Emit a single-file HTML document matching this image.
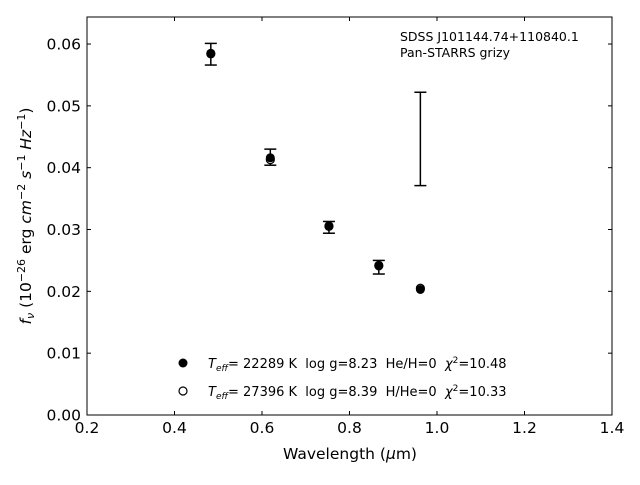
<!DOCTYPE html>
<html><head><meta charset="utf-8"><style>
body{margin:0;background:#fff}
svg text{font-family:"DejaVu Sans","Liberation Sans",sans-serif;fill:#000;white-space:pre}
</style></head><body>
<svg id="c" width="640" height="480" xmlns="http://www.w3.org/2000/svg">
<rect x="87" y="17" width="525" height="398" fill="none" stroke="#000" stroke-width="1"/>
<g id="ticks"></g>
<g id="marks"></g>
<text x="400" y="41" font-size="12.5">SDSS J101144.74+110840.1</text>
<text x="400" y="57" font-size="12.5">Pan-STARRS grizy</text>
<circle cx="183" cy="363" r="4.5" fill="#000"/>
<text x="208" y="368" font-size="13" xml:space="preserve"><tspan font-style="italic">T</tspan><tspan font-style="italic" font-size="9" dy="3">eff</tspan><tspan dy="-3">= 22289 K  log g=8.23  He/H=0  </tspan><tspan font-style="italic">χ</tspan><tspan font-size="9" dy="-5">2</tspan><tspan dy="5">=10.48</tspan></text>
<circle cx="183" cy="391" r="4" fill="#fff" stroke="#000" stroke-width="1.2"/>
<text x="208" y="396" font-size="13" xml:space="preserve"><tspan font-style="italic">T</tspan><tspan font-style="italic" font-size="9" dy="3">eff</tspan><tspan dy="-3">= 27396 K  log g=8.39  H/He=0  </tspan><tspan font-style="italic">χ</tspan><tspan font-size="9" dy="-5">2</tspan><tspan dy="5">=10.33</tspan></text>
<text x="350" y="459" font-size="15.5" text-anchor="middle">Wavelength (<tspan font-style="italic">μ</tspan>m)</text>
<text transform="translate(31,216) rotate(-90)" font-size="15.5" text-anchor="middle"><tspan font-style="italic">f</tspan><tspan font-style="italic" font-size="11" dy="3">ν</tspan><tspan dy="-3"> (10</tspan><tspan font-size="11" dy="-6">−26</tspan><tspan dy="6"> erg </tspan><tspan font-style="italic">cm</tspan><tspan font-size="11" dy="-6">−2</tspan><tspan dy="6"> </tspan><tspan font-style="italic">s</tspan><tspan font-size="11" dy="-6">−1</tspan><tspan dy="6"> </tspan><tspan font-style="italic">Hz</tspan><tspan font-size="11" dy="-6">−1</tspan><tspan dy="6">)</tspan></text>
</svg>
<script>
const xTicks=[0.2,0.4,0.6,0.8,1.0,1.2,1.4];
const xTickLabels=["0.2","0.4","0.6","0.8","1.0","1.2","1.4"];
const yTicks=[0,0.01,0.02,0.03,0.04,0.05,0.06];
const yTickLabels=["0.00","0.01","0.02","0.03","0.04","0.05","0.06"];
const wavelengths=[0.483,0.619,0.753,0.867,0.962];
const fluxObs=[0.0585,0.0415,0.0305,0.0241,0.0203];
const errLow=[0.0566,0.0404,0.0294,0.0228,0.0371];
const errHigh=[0.0601,0.0430,0.0313,0.0250,0.0522];
const modelHe=[0.0585,0.0416,0.0306,0.0241,0.0203];
const modelH=[0.0584,0.0413,0.0305,0.0242,0.0205];
const X=v=>87+(v-0.2)*437.5;
const Y=v=>415-v*6183;
const NS="http://www.w3.org/2000/svg";
function mk(t,a,p){const e=document.createElementNS(NS,t);for(const k in a)e.setAttribute(k,a[k]);p.appendChild(e);return e;}
const tk=document.getElementById('ticks'),mg=document.getElementById('marks');
xTicks.forEach((v,i)=>{
 const l=mk('line',{x1:X(v),x2:X(v),y1:415,y2:411,stroke:'#000'},tk);
 
 
 const t=mk('text',{x:X(v),y:433,'font-size':15.5,'text-anchor':'middle'},tk);t.textContent=xTickLabels[i];
 
 
 const r=mk('line',{x1:X(v),x2:X(v),y1:17,y2:21,stroke:'#000'},tk);
 
 
});
yTicks.forEach((v,i)=>{
 const l=mk('line',{x1:87,x2:91,y1:Y(v),y2:Y(v),stroke:'#000'},tk);
 
 
 const r=mk('line',{x1:608,x2:612,y1:Y(v),y2:Y(v),stroke:'#000'},tk);
 
 
 const t=mk('text',{x:81,y:Y(v)+5.5,'font-size':15.5,'text-anchor':'end'},tk);t.textContent=yTickLabels[i];
 
 
});
wavelengths.forEach((w,i)=>{
 const x=X(w);
 const g=mk('g',{stroke:'#000','stroke-width':1.5},mg);
 
 
 mk('line',{x1:x,x2:x,y1:Y(errLow[i]),y2:Y(errHigh[i])},g);
 mk('line',{x1:x-6,x2:x+6,y1:Y(errLow[i]),y2:Y(errLow[i])},g);
 mk('line',{x1:x-6,x2:x+6,y1:Y(errHigh[i]),y2:Y(errHigh[i])},g);
 const o=mk('circle',{cx:x,cy:Y(modelH[i]),r:4,fill:'#fff',stroke:'#000','stroke-width':1.2},mg);
 
 
 const f=mk('circle',{cx:x,cy:Y(modelHe[i]),r:4.5,fill:'#000'},mg);
 
 
});
</script>
</body></html>
